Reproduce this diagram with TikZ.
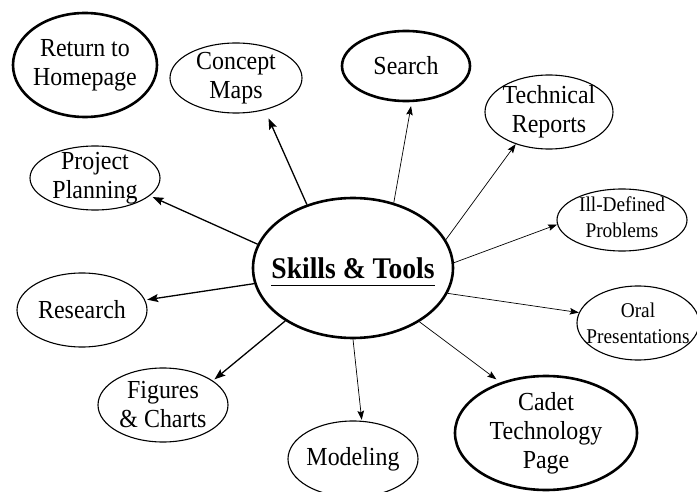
\documentclass[tikz,border=0pt]{standalone}
\usepackage{fontspec}
\setmainfont{Liberation Serif}[FakeStretch=0.92]
\usetikzlibrary{shapes.geometric,arrows.meta}
% underlined title whose rule does not change the box size
\newcommand\titleline[1]{\setbox0\hbox{#1}\rlap{\smash{\rule[-8pt]{\wd0}{1.6pt}}}\box0}
\begin{document}
\begin{tikzpicture}[x=1pt,y=-1pt,
  bub/.style={ellipse, draw, line width=1.1pt, inner sep=0pt},
  heavy/.style={line width=2.6pt},
  txt/.style={align=center, inner sep=0pt, font=\fontsize{26}{29}\selectfont},
  smalltxt/.style={align=center, inner sep=0pt, font=\fontsize{21}{26}\selectfont},
  link/.style={-{Stealth[length=9pt,width=6.5pt,inset=1.5pt]}, line width=0.7pt},
  boldlink/.style={-{Stealth[length=11pt,width=8pt,inset=2pt]}, line width=1.3pt}]
\useasboundingbox (0,0) rectangle (697,492);

% hub
\node[bub, heavy, minimum width=200pt, minimum height=140pt,
  label={[inner sep=0pt, font=\fontsize{30}{34}\selectfont\bfseries]center:\titleline{Skills \& Tools}}]
  (hub) at (353,268) {};

% surrounding topics
\node[bub, heavy, minimum width=144pt, minimum height=104pt,
  label={[txt]center:Return to\\Homepage}] (home) at (85,65) {};
\node[bub, minimum width=132pt, minimum height=70pt,
  label={[txt]center:Concept\\Maps}] (concept) at (236,78) {};
\node[bub, heavy, minimum width=128pt, minimum height=70pt,
  label={[txt]center:Search}] (search) at (406,66) {};
\node[bub, minimum width=128pt, minimum height=74pt,
  label={[txt]center:Technical\\Reports}] (tech) at (549,112) {};
\node[bub, minimum width=130pt, minimum height=62pt,
  label={[smalltxt, yshift=3pt]center:Ill-Defined\\Problems}] (ill) at (622,220) {};
\node[bub, minimum width=130pt, minimum height=64pt,
  label={[txt]center:Project\\Planning}] (plan) at (95,178) {};
\node[bub, minimum width=130pt, minimum height=74pt,
  label={[txt]center:Research}] (research) at (82,310) {};
\node[bub, minimum width=122pt, minimum height=74pt,
  label={[smalltxt]center:Oral\\Presentations}] (oral) at (638,323) {};
\node[bub, minimum width=130pt, minimum height=74pt,
  label={[txt]center:Figures\\\& Charts}] (fig) at (163,405) {};
\node[bub, minimum width=130pt, minimum height=76pt,
  label={[txt]center:Modeling}] (model) at (353,459) {};
\node[bub, heavy, minimum width=182pt, minimum height=114pt,
  label={[txt]center:Cadet\\Technology\\Page}] (cadet) at (546,433) {};

% connectors from the hub
\draw[boldlink, shorten >=9pt] (hub.126) -- (concept.-48);
\draw[boldlink, shorten >=3pt] (hub.166) -- (plan.-18);
\draw[boldlink, shorten >=2pt] (hub.189) -- (research.9.5);
\draw[boldlink, shorten >=2pt] (hub.218) -- (fig.26);
\draw[link, shorten >=4pt] (hub.58) -- (search.-81);
\draw[link] (hub.17) -- (tech.-136);
\draw[link] (hub.3) -- (ill.184);
\draw[link] (hub.-15) -- (oral.170);
\draw[link, shorten >=5pt] (hub.-39) -- (cadet.132);
\draw[link, shorten >=1pt] (hub.-90) -- (model.77);
\end{tikzpicture}
\end{document}
